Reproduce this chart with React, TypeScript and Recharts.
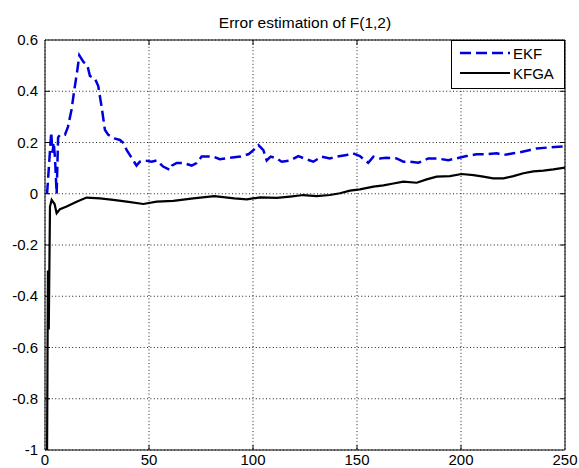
import { LineChart, Line, XAxis, YAxis, CartesianGrid, Legend, ReferenceLine } from 'recharts';

// EKF error (blue dashed), sampled off the figure
const ekfX = [1, 2, 3, 3.6, 4.2, 4.8, 5.6, 6.3, 7.2, 9.6, 11, 12.8, 14, 15.5, 16.5, 18.4, 20.4, 21.6, 24, 25.6, 27.2, 28.8, 30.4, 33.7, 36, 37.5, 39.3, 40.9, 44, 45.6, 48, 51.3, 53.7, 56.8, 60, 61, 63.3, 66.5, 70.5, 72.9, 75.3, 81, 84, 88.9, 94, 98, 100.2, 102.6, 105, 106.6, 108.5, 111.4, 113.8, 117.8, 121.8, 125.8, 129, 133, 137, 140, 145, 148, 151.4, 153.8, 155.4, 157.9, 161, 164, 169, 172.3, 175.5, 179.5, 184.3, 188.3, 193.9, 197.9, 202.7, 207.5, 212.3, 217.2, 220.4, 225.2, 228.4, 233.2, 236.4, 241.2, 245, 250];
const ekfY = [0.0, 0.12, 0.24, 0.16, 0.2, 0.14, 0.0, 0.22, 0.23, 0.23, 0.26, 0.33, 0.4, 0.48, 0.54, 0.515, 0.5, 0.46, 0.45, 0.42, 0.34, 0.25, 0.23, 0.215, 0.21, 0.2, 0.17, 0.15, 0.11, 0.125, 0.13, 0.125, 0.13, 0.106, 0.093, 0.11, 0.12, 0.12, 0.11, 0.12, 0.145, 0.145, 0.135, 0.14, 0.145, 0.155, 0.17, 0.19, 0.17, 0.13, 0.145, 0.138, 0.125, 0.13, 0.147, 0.134, 0.125, 0.145, 0.138, 0.145, 0.151, 0.158, 0.147, 0.13, 0.121, 0.145, 0.138, 0.14, 0.138, 0.125, 0.125, 0.121, 0.138, 0.138, 0.131, 0.138, 0.147, 0.154, 0.154, 0.158, 0.151, 0.158, 0.162, 0.171, 0.177, 0.18, 0.182, 0.185];

// KFGA error (black solid)
const kfgaX = [1, 1.4, 1.8, 2.4, 3.2, 4.6, 5.6, 7.2, 10.4, 15.2, 20, 26.4, 32.8, 39.3, 47.3, 53.7, 61.7, 71.3, 81.4, 91, 97, 103.4, 111.4, 117.8, 124.2, 130.6, 137, 141.8, 146.6, 151.4, 157.9, 162.7, 167.5, 172.3, 178.7, 183.5, 188.3, 194.7, 200.3, 206, 210.7, 215.5, 220.4, 225.2, 230, 234.8, 239.6, 244.4, 250];
const kfgaY = [-1, -0.3, -0.53, -0.05, -0.024, -0.04, -0.076, -0.06, -0.05, -0.031, -0.015, -0.018, -0.024, -0.031, -0.04, -0.031, -0.028, -0.018, -0.009, -0.018, -0.022, -0.014, -0.016, -0.011, -0.005, -0.009, -0.005, 0.002, 0.012, 0.017, 0.028, 0.033, 0.04, 0.047, 0.043, 0.056, 0.067, 0.069, 0.077, 0.073, 0.067, 0.06, 0.06, 0.069, 0.08, 0.087, 0.09, 0.095, 0.102];

const xTicks = [0, 50, 100, 150, 200, 250];
const yTicks = [-1, -0.8, -0.6, -0.4, -0.2, 0, 0.2, 0.4, 0.6];

const ekfData = ekfX.map((x, i) => ({ x, y: ekfY[i] }));
const kfgaData = kfgaX.map((x, i) => ({ x, y: kfgaY[i] }));

const FONT = '"Liberation Sans", Arial, sans-serif';
const W = 579;
const H = 468;
const PLOT_L = 45;
const PLOT_R = 565;
const PLOT_T = 40;
const PLOT_B = 450;

const fmt = (v: number) => String(Math.round(v * 10) / 10);

const YTick = (props: any) => {
  const { x, y, payload } = props;
  const inner = payload.value > -1 && payload.value < 0.6;
  return (
    <g>
      <text x={x} y={y} dy={5} textAnchor="end" fontSize={15} fontFamily={FONT} fill="#000">
        {fmt(payload.value)}
      </text>
      {inner && <line x1={PLOT_L} x2={PLOT_L + 5} y1={y} y2={y} stroke="#000" />}
      {inner && <line x1={PLOT_R} x2={PLOT_R - 5} y1={y} y2={y} stroke="#000" />}
    </g>
  );
};

const XTick = (props: any) => {
  const { x, y, payload } = props;
  const inner = payload.value > 0 && payload.value < 250;
  return (
    <g>
      <text x={x} y={y} dy={8} textAnchor="middle" fontSize={15} fontFamily={FONT} fill="#000">
        {payload.value}
      </text>
      {inner && <line x1={x} x2={x} y1={PLOT_B} y2={PLOT_B - 5} stroke="#000" />}
      {inner && <line x1={x} x2={x} y1={PLOT_T} y2={PLOT_T + 5} stroke="#000" />}
    </g>
  );
};

const renderLegend = (props: any) => {
  const items = props.payload || [];
  return (
    <svg width={114} height={49} style={{ display: 'block' }}>
      <rect x={0.5} y={0.5} width={113} height={48} fill="#fff" stroke="#000" />
      {items.map((it: any, i: number) => {
        const yy = 13 + i * 20;
        return (
          <g key={it.value}>
            <line x1={9} x2={59} y1={yy} y2={yy} stroke={it.color} strokeWidth={it.payload?.strokeWidth ?? 2}
              strokeDasharray={it.payload?.strokeDasharray} />
            <text x={62} y={yy + 6} fontSize={15} fontFamily={FONT} fill="#000">{it.value}</text>
          </g>
        );
      })}
    </svg>
  );
};

export default function App() {
  return (
    <div style={{ position: 'absolute', left: 0, top: 0, width: W, height: H, background: '#fff' }}>
      <div style={{ position: 'absolute', left: PLOT_L, width: PLOT_R - PLOT_L, top: 14, textAlign: 'center',
        fontFamily: FONT, fontSize: 15.5, lineHeight: '17px', color: '#000' }}>
        Error estimation of F(1,2)
      </div>
      <LineChart width={W} height={H} margin={{ top: PLOT_T, right: W - PLOT_R, bottom: 0, left: 0 }}>
        <CartesianGrid stroke="#222" strokeDasharray="1 2.4" />
        <XAxis dataKey="x" type="number" domain={[0, 250]} ticks={xTicks} height={H - PLOT_B}
          stroke="#000" tickLine={false} tickSize={0} tickMargin={7} tick={<XTick />} allowDataOverflow />
        <YAxis type="number" domain={[-1, 0.6]} ticks={yTicks} width={PLOT_L}
          stroke="#000" tickLine={false} tickSize={0} tickMargin={7} tick={<YTick />} allowDataOverflow />
        <ReferenceLine y={0.6} stroke="#000" />
        <ReferenceLine x={250} stroke="#000" />
        <Line data={ekfData} dataKey="y" name="EKF" type="linear" stroke="#0000dd" strokeWidth={2.5}
          strokeDasharray="11 5" dot={false} isAnimationActive={false} />
        <Line data={kfgaData} dataKey="y" name="KFGA" type="linear" stroke="#000" strokeWidth={2.2}
          dot={false} isAnimationActive={false} />
        <Legend content={renderLegend} layout="horizontal" verticalAlign="middle" align="center"
          wrapperStyle={{ position: 'absolute', left: 451, top: PLOT_T, width: 114, height: 49 }} />
      </LineChart>
    </div>
  );
}
